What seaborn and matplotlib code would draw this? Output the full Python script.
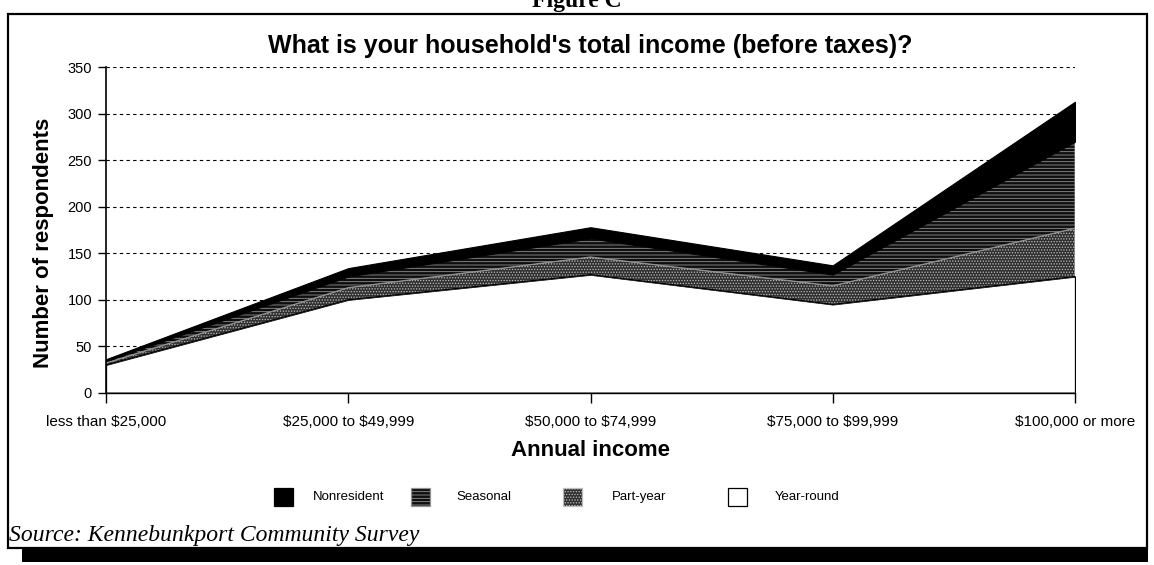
import numpy as np
import pandas as pd
import matplotlib
matplotlib.use("Agg")
import matplotlib.pyplot as plt
from matplotlib.patches import Rectangle
import seaborn as sns

# Survey responses by income bracket, stacked by residency type
categories = ["less than $25,000", "$25,000 to $49,999", "$50,000 to $74,999",
              "$75,000 to $99,999", "$100,000 or more"]
year_round = [30, 100, 127, 95, 125]
part_year = [2, 13, 19, 20, 52]
seasonal = [2, 12, 20, 12, 93]
nonresident = [2, 9, 12, 10, 43]

series_names = ["Year-round", "Part-year", "Seasonal", "Nonresident"]
legend_order = ["Nonresident", "Seasonal", "Part-year", "Year-round"]
y_ticks = [0, 50, 100, 150, 200, 250, 300, 350]

sns.set_style("white")
plt.rcParams["font.family"] = ["Liberation Sans", "DejaVu Sans"]
plt.rcParams["text.parse_math"] = False
plt.rcParams["hatch.linewidth"] = 0.6
for key in ["text.color", "axes.labelcolor", "xtick.color", "ytick.color", "axes.edgecolor"]:
    plt.rcParams[key] = "black"

W, H = 1154, 565
fig = plt.figure(figsize=(W / 100, H / 100), dpi=100)
ax = fig.add_axes([106 / W, 1 - 392.7 / H, (1075 - 106) / W, (392.7 - 67.3) / H])

styles = {
    "Year-round": dict(facecolor="white", edgecolor="black", hatch=None, lw=0.9),
    "Part-year": dict(facecolor="#303030", edgecolor="#bdbdbd", hatch="......", lw=0.8),
    "Seasonal": dict(facecolor="#0e0e0e", edgecolor="#929292", hatch="-----", lw=0.8),
    "Nonresident": dict(facecolor="black", edgecolor="black", hatch=None, lw=0.8),
}

x = np.arange(len(categories))
layers = [year_round, part_year, seasonal, nonresident]
polys = ax.stackplot(x, *layers, zorder=2)
for poly, name in zip(polys, series_names):
    st = styles[name]
    poly.set_facecolor(st["facecolor"])
    poly.set_edgecolor(st["edgecolor"])
    poly.set_linewidth(st["lw"])
    if st["hatch"]:
        poly.set_hatch(st["hatch"])

# Outline of the year-round layer
df = pd.DataFrame({"x": x, "y": year_round})
sns.lineplot(data=df, x="x", y="y", color="black", linewidth=1.0, ax=ax, zorder=3)

ax.set_xlim(0, len(categories) - 1)
ax.set_ylim(0, 350)
ax.set_yticks(y_ticks)
ax.set_yticklabels([str(v) for v in y_ticks], fontsize=10.5)
ax.set_xticks(x)
ax.set_xticklabels(categories, fontsize=11)
ax.tick_params(axis="y", direction="out", length=6, width=1, color="black", pad=4, left=True)
ax.tick_params(axis="x", direction="out", length=7, width=1, color="black", pad=9, bottom=True)

for v in y_ticks[1:]:
    ax.axhline(v, color="black", linestyle=(0, (3, 3)), linewidth=0.8, zorder=1)

sns.despine(ax=ax, top=True, right=True)
ax.spines["left"].set_linewidth(1.2)
ax.spines["bottom"].set_linewidth(1.0)
ax.spines["left"].set_zorder(4)

ax.set_xlabel("Annual income", fontsize=16, fontweight="bold", labelpad=8)
ax.set_ylabel("Number of respondents", fontsize=16, fontweight="bold")
ax.yaxis.set_label_coords(-0.054, 0.46)
ax.set_title("What is your household's total income (before taxes)?",
             fontsize=18, fontweight="bold", pad=10)

# Legend: swatch and label for each residency type
legend_swatch_x = [274, 411, 563, 728]
legend_text_x = [313, 456, 612, 775]
legend_y = 497
for name, sx, tx in zip(legend_order, legend_swatch_x, legend_text_x):
    st = styles[name]
    fig.patches.append(Rectangle((sx / W, 1 - (legend_y + 9) / H), 19 / W, 18 / H,
                                 transform=fig.transFigure, facecolor=st["facecolor"],
                                 edgecolor="black" if name == "Year-round" else st["edgecolor"],
                                 hatch=st["hatch"], linewidth=0.9))
    fig.text(tx / W, 1 - legend_y / H, name, fontsize=9.5, va="center", ha="left")

# Source note
fig.text(9 / W, 1 - 535 / H, "Source: Kennebunkport Community Survey",
         fontsize=17, fontstyle="italic", family=["Liberation Serif", "DejaVu Serif"],
         va="center", ha="left")

# Heading above the frame, partly clipped by the page edge
fig.text(0.5, 1 - 1 / H, "Figure C", fontsize=17, fontweight="bold",
         family=["Liberation Serif", "DejaVu Serif"], ha="center", va="center")

# Frame around the chart with a heavy bottom rule
fig.patches.append(Rectangle((8 / W, 1 - 548 / H), (1147 - 8) / W, (548 - 14) / H,
                             transform=fig.transFigure, fill=False, edgecolor="black",
                             linewidth=1.6))
fig.patches.append(Rectangle((22 / W, 1 - 562 / H), (1148 - 22) / W, 13 / H,
                             transform=fig.transFigure, facecolor="black", edgecolor="none"))

fig.savefig("out.png", dpi=100)
